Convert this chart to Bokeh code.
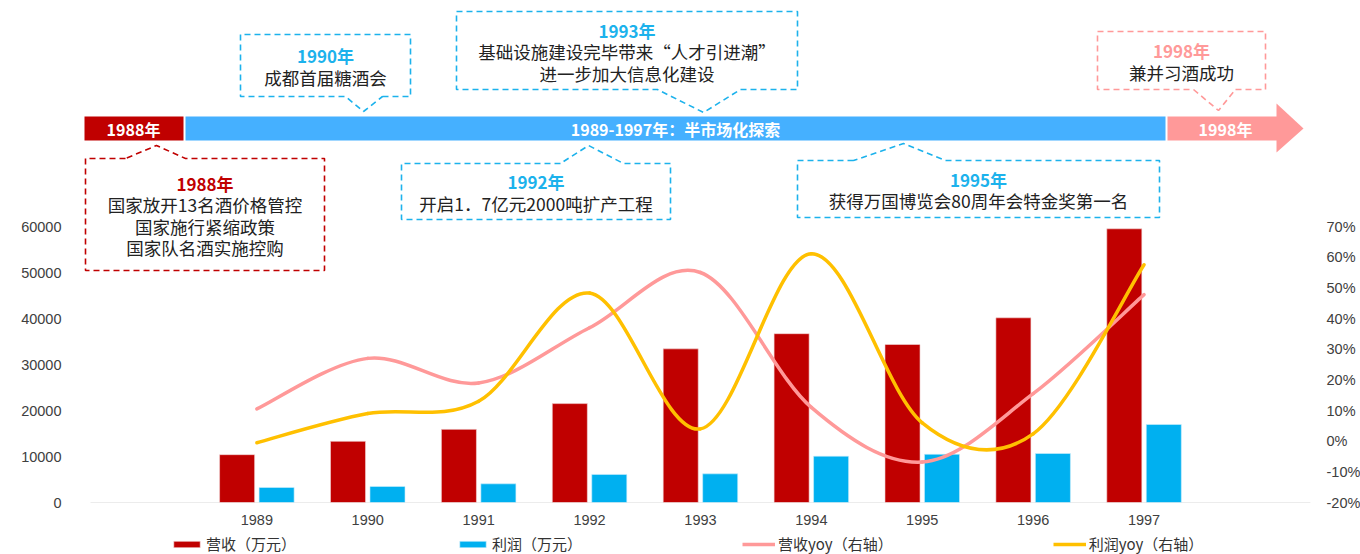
import numpy as np
from bokeh.plotting import figure
from bokeh.layouts import column
from bokeh.models import (Range1d, LinearAxis, FixedTicker, NumeralTickFormatter,
                          Legend, LegendItem)
from bokeh.core.properties import value
from bokeh.embed import file_html
from bokeh.resources import INLINE

# ---------------- data ----------------
years = ["1989", "1990", "1991", "1992", "1993", "1994", "1995", "1996", "1997"]
revenue = [10400, 13300, 15900, 21500, 33400, 36700, 34350, 40150, 59500]      # 营收（万元）
profit = [3260, 3480, 4060, 6100, 6230, 10070, 10480, 10650, 16960]            # 利润（万元）
revenue_yoy = [0.105, 0.27, 0.19, 0.37, 0.55, 0.11, -0.068, 0.155, 0.478]      # 营收yoy（右轴）
profit_yoy = [-0.005, 0.09, 0.13, 0.483, 0.04, 0.611, 0.06, 0.024, 0.575]      # 利润yoy（右轴）
left_ticks = [0, 10000, 20000, 30000, 40000, 50000, 60000]
right_ticks = [-0.2, -0.1, 0.0, 0.1, 0.2, 0.3, 0.4, 0.5, 0.6, 0.7]
legend_labels = ["营收（万元）", "利润（万元）", "营收yoy（右轴）", "利润yoy（右轴）"]

# timeline texts
band_texts = ["1988年", "1989-1997年：半市场化探索", "1998年"]
callout_titles = ["1988年", "1990年", "1993年", "1992年", "1995年", "1998年"]
callout_bodies = [
    ["国家放开13名酒价格管控", "国家施行紧缩政策", "国家队名酒实施控购"],
    ["成都首届糖酒会"],
    ["基础设施建设完毕带来“人才引进潮”", "进一步加大信息化建设"],
    ["开启1．7亿元2000吨扩产工程"],
    ["获得万国博览会80周年会特金奖第一名"],
    ["兼并习酒成功"],
]

# ---------------- styling / layout ----------------
RED = "#C00000"
BLUE_BAR = "#00B0F0"
PINK = "#FF9999"
GOLD = "#FFC000"
BAND_BLUE = "#45B0FF"
CALL_BLUE = "#1CB2EC"
TXT = "#222222"
AX = "#404040"
CJK = "Noto Sans CJK SC"

W, H = 1360, 554
LEG_H = 22
FRAME_L, FRAME_R, FRAME_T, FRAME_B = 75, 1312, 8, 502   # page pixels
AXIS_X0 = 90
SLOT_PX = 110.9
PX_60000 = 276.0

n = len(years)
x = np.arange(1, n + 1, dtype=float)

x_start = -0.5 - (AXIS_X0 - FRAME_L) / SLOT_PX
x_end = x_start + (FRAME_R - FRAME_L) / SLOT_PX
frame_h = FRAME_B - FRAME_T
y_end = left_ticks[-1] * frame_h / PX_60000
pct_end = right_ticks[0] + (right_ticks[-1] - right_ticks[0]) * frame_h / PX_60000

p = figure(frame_width=FRAME_R - FRAME_L, frame_height=frame_h,
           x_range=Range1d(x_start, x_end), y_range=Range1d(0, y_end),
           output_backend="svg", toolbar_location=None,
           min_border_left=FRAME_L, min_border_right=W - FRAME_R,
           min_border_top=FRAME_T, min_border_bottom=H - LEG_H - FRAME_B)
p.extra_y_ranges = {"pct": Range1d(right_ticks[0], pct_end),
                    "py": Range1d(FRAME_B, FRAME_T)}
p.extra_x_ranges = {"px": Range1d(FRAME_L, FRAME_R)}
p.outline_line_color = None
p.xgrid.visible = False
p.ygrid.visible = False
p.background_fill_color = "white"
p.border_fill_color = "white"

# left axis
ya = p.yaxis[0]
ya.ticker = FixedTicker(ticks=left_ticks)
ya.formatter = NumeralTickFormatter(format="0")
ya.axis_line_color = None
ya.major_tick_line_color = None
ya.minor_tick_line_color = None
ya.major_label_text_font = "Liberation Sans"
ya.major_label_text_font_size = "14.5px"
ya.major_label_text_color = AX
ya.major_label_standoff = 8

# right axis
ra = LinearAxis(y_range_name="pct", ticker=FixedTicker(ticks=right_ticks),
                formatter=NumeralTickFormatter(format="0%"))
ra.axis_line_color = None
ra.major_tick_line_color = None
ra.minor_tick_line_color = None
ra.major_label_text_font = "Liberation Sans"
ra.major_label_text_font_size = "14.5px"
ra.major_label_text_color = AX
ra.major_label_standoff = 8
p.add_layout(ra, "right")

# x axis
xa = p.xaxis[0]
xa.ticker = FixedTicker(ticks=list(x))
xa.major_label_overrides = {float(xi): yr for xi, yr in zip(x, years)}
xa.axis_line_color = None
xa.major_tick_line_color = None
xa.minor_tick_line_color = None
xa.major_label_text_font = "Liberation Sans"
xa.major_label_text_font_size = "14.5px"
xa.major_label_text_color = AX
xa.major_label_standoff = 6

# baseline
p.segment(x0=[-0.5], y0=[0], x1=[n + 1.5], y1=[0], line_color="#D9D9D9", line_width=1.2)

# bars
off, bw = 0.178, 0.316
BAR_REV = dict(fill_color=RED, line_color="#F4DADA", line_width=0.6)
BAR_PRO = dict(fill_color=BLUE_BAR, line_color="#CDEFFC", line_width=0.6)
p.vbar(x=x - off, top=revenue, width=bw, **BAR_REV)
p.vbar(x=x + off, top=profit, width=bw, **BAR_PRO)


# smoothed lines (cubic Bezier through the data points)
def smooth(xs, ys):
    xs = list(xs); ys = list(ys); m = len(xs)
    out = {k: [] for k in ("x0", "y0", "x1", "y1", "cx0", "cy0", "cx1", "cy1")}
    for i in range(m - 1):
        ip = max(i - 1, 0); inx = min(i + 2, m - 1)
        out["x0"].append(xs[i]); out["y0"].append(ys[i])
        out["x1"].append(xs[i + 1]); out["y1"].append(ys[i + 1])
        out["cx0"].append(xs[i] + (xs[i + 1] - xs[ip]) / 6)
        out["cy0"].append(ys[i] + (ys[i + 1] - ys[ip]) / 6)
        out["cx1"].append(xs[i + 1] - (xs[inx] - xs[i]) / 6)
        out["cy1"].append(ys[i + 1] - (ys[inx] - ys[i]) / 6)
    return out


LINE_REV = dict(line_color=PINK, line_width=3.5)
LINE_PRO = dict(line_color=GOLD, line_width=3.5)
p.bezier(**smooth(x, revenue_yoy), **LINE_REV, line_cap="round", y_range_name="pct")
p.bezier(**smooth(x, profit_yoy), **LINE_PRO, line_cap="round", y_range_name="pct")

# ---------------- timeline band ----------------
PXR = dict(x_range_name="px", y_range_name="py")
p.quad(left=[84, 185, 1167], right=[183, 1165, 1277], top=[116, 116, 116], bottom=[140, 140, 140],
       fill_color=[RED, BAND_BLUE, PINK], line_color=None, **PXR)
p.patch(x=[1276, 1303, 1276], y=[103, 128, 152], fill_color=PINK, line_color=None, **PXR)
p.text(x=[133, 675, 1225], y=[128, 128, 128], text=band_texts, text_align="center",
       text_baseline="middle", text_color="white", text_font=value(CJK),
       text_font_style="bold", text_font_size="16px", **PXR)

# ---------------- callouts ----------------
# (L, R, T, B, side, pointer start, tip(x, y), pointer end, color, title colour)
boxes = [
    (85, 324, 158, 270, "top", 125, (156, 145), 185, RED, RED),
    (240, 410, 34, 96, "bottom", 345, (363, 111), 382, CALL_BLUE, CALL_BLUE),
    (456, 797, 11, 89, "bottom", 657, (703, 112), 740, CALL_BLUE, CALL_BLUE),
    (401, 670, 163, 219, "top", 560, (588, 145), 623, CALL_BLUE, CALL_BLUE),
    (797, 1159, 160, 217, "top", 853, (903, 143), 945, CALL_BLUE, CALL_BLUE),
    (1097, 1265, 31, 89, "bottom", 1193, (1218, 110), 1235, PINK, PINK),
]
line_gap = 21.5
for (L, R, T, B, side, a, tip, b, col, tcol), title, body in zip(boxes, callout_titles, callout_bodies):
    if side == "top":
        xs = [a, L, L, R, R, b, tip[0], a]
        ys = [T, T, B, B, T, T, tip[1], T]
    else:
        xs = [b, R, R, L, L, a, tip[0], b]
        ys = [B, B, T, T, B, B, tip[1], B]
    p.line(x=xs, y=ys, line_color=col, line_width=1.6, line_dash="6 4", **PXR)
    cx = (L + R) / 2
    nlines = 1 + len(body)
    cy = (T + B) / 2 + 1
    y0 = cy - (nlines - 1) * line_gap / 2
    p.text(x=[cx], y=[y0], text=[title], text_align="center", text_baseline="middle",
           text_color=tcol, text_font=value(CJK), text_font_style="bold",
           text_font_size="17px", **PXR)
    p.text(x=[cx] * len(body), y=[y0 + line_gap * (k + 1) for k in range(len(body))],
           text=body, text_align="center", text_baseline="middle", text_color=TXT,
           text_font=value(CJK), text_font_size="17.5px", **PXR)

# ---------------- legend strip ----------------
lf = figure(width=W, height=LEG_H, x_range=Range1d(0, 1), y_range=Range1d(0, 1),
            output_backend="svg", toolbar_location=None, x_axis_type=None, y_axis_type=None,
            min_border_left=FRAME_L, min_border_right=W - FRAME_R,
            min_border_top=0, min_border_bottom=0)
lf.outline_line_color = None
lf.xgrid.visible = False
lf.ygrid.visible = False
# legend-only helper renderers (NaN data: nothing drawn in the strip itself)
NAN = float("nan")
lr1 = lf.vbar(x=[NAN], top=[NAN], width=1, **BAR_REV)
lr2 = lf.vbar(x=[NAN], top=[NAN], width=1, **BAR_PRO)
lr3 = lf.line(x=[NAN, NAN], y=[NAN, NAN], **LINE_REV)
lr4 = lf.line(x=[NAN, NAN], y=[NAN, NAN], **LINE_PRO)
PAD = 2
legend = Legend(items=[LegendItem(label=lab, renderers=[r])
                       for lab, r in zip(legend_labels, [lr1, lr2, lr3, lr4])],
                orientation="horizontal", location=(172 - FRAME_L - PAD, 0), spacing=160,
                glyph_width=33, glyph_height=8, label_standoff=3, label_height=18,
                padding=PAD, margin=0, border_line_color=None, background_fill_alpha=0,
                label_text_font=CJK, label_text_font_size="15px", label_text_color="#333333")
lf.add_layout(legend, "center")

layout = column(p, lf, spacing=0)
open("out.html", "w").write(file_html(layout, INLINE))
